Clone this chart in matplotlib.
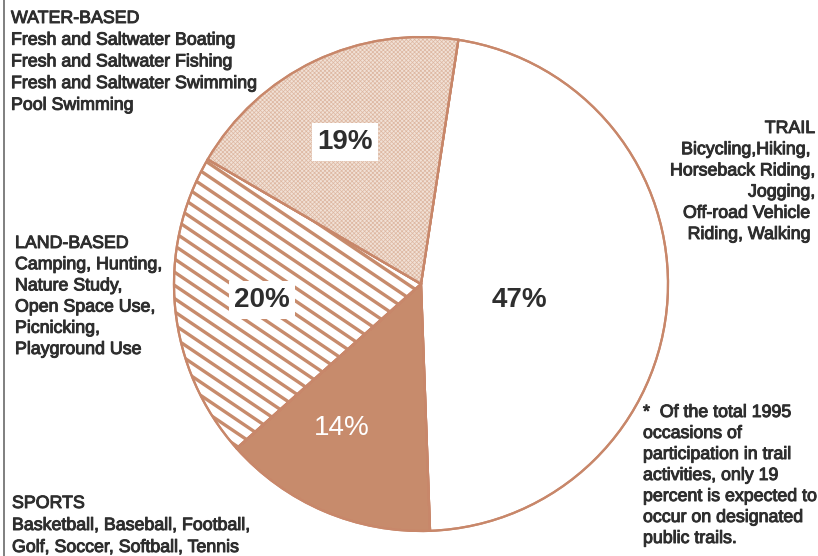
import matplotlib
matplotlib.use('Agg')
import matplotlib.pyplot as plt
import matplotlib.patheffects as pe
from matplotlib.patches import Wedge
import numpy as np

# ---------------- data ----------------
categories = ['TRAIL', 'SPORTS', 'LAND-BASED', 'WATER-BASED']
shares = [47, 14, 20, 19]
pct_labels = ['47%', '14%', '20%', '19%']

water_lines = ['WATER-BASED', 'Fresh and Saltwater Boating', 'Fresh and Saltwater Fishing',
               'Fresh and Saltwater Swimming', 'Pool Swimming']
trail_lines = ['TRAIL', 'Bicycling,Hiking, ', 'Horseback Riding,', 'Jogging,',
               'Off-road Vehicle ', 'Riding, Walking ']
land_lines = ['LAND-BASED', 'Camping, Hunting,', 'Nature Study,', 'Open Space Use,',
              'Picnicking,', 'Playground Use']
sports_lines = ['SPORTS', 'Basketball, Baseball, Football,', 'Golf, Soccer, Softball, Tennis']
note_lines = ['*  Of the total 1995', 'occasions of', 'participation in trail',
              'activities, only 19', 'percent is expected to', 'occur on designated',
              'public trails.']

# ---------------- figure ----------------
W, H = 818, 556
fig = plt.figure(figsize=(W / 100, H / 100), dpi=100)
ax = fig.add_axes([0, 0, 1, 1])

def Y(y):
    return H - y

brown = '#C78B6C'
edge = '#C8876A'
txt = '#2e2e2e'
cx, cy, R = 421, Y(284), 247

wedges, _ = ax.pie(shares, startangle=81.3, counterclock=False, center=(cx, cy), radius=R,
                   frame=True, colors=['white', brown, 'white', '#F1E1D6'],
                   wedgeprops=dict(edgecolor=edge, linewidth=1.6))
ax.set_xlim(0, W)
ax.set_ylim(0, H)
ax.axis('off')

# dotted texture on water-based wedge
plt.rcParams['hatch.linewidth'] = 0.5
w = wedges[3]
dots = Wedge((cx, cy), R, w.theta1, w.theta2, facecolor='none', edgecolor='#DDB7A1',
             linewidth=0, hatch='xxxxxxxx', zorder=1.5)
ax.add_patch(dots)

# diagonal stripes on land-based wedge
land = wedges[2]
t = np.tan(np.radians(34))
x0, x1 = 150, 460
for c in np.arange(10, 640, 13.2):
    ln, = ax.plot([x0, x1], [c, c - t * (x1 - x0)], color=brown, lw=2.4,
                  solid_capstyle='butt', zorder=1.6)
    ln.set_clip_path(land)

# redraw outline on top
for wd in wedges:
    ax.add_patch(Wedge(wd.center, wd.r, wd.theta1, wd.theta2, facecolor='none',
                       edgecolor=edge, linewidth=1.6, zorder=1.8))

# percentage labels
box = dict(facecolor='white', edgecolor='none', pad=4)
ax.text(519, Y(300), pct_labels[0], fontsize=20, fontweight='bold', color=txt,
        ha='center', va='center', family='Liberation Sans')
ax.text(342, Y(428), pct_labels[1], fontsize=20, color='white',
        ha='center', va='center', family='Liberation Sans')
ax.text(262, Y(300), pct_labels[2], fontsize=20, fontweight='bold', color=txt,
        ha='center', va='center', family='Liberation Sans', bbox=box)
ax.text(345, Y(142), pct_labels[3], fontsize=20, fontweight='bold', color=txt,
        ha='center', va='center', family='Liberation Sans', bbox=box)

# text blocks
stroke = [pe.withStroke(linewidth=0.7, foreground=txt)]

def block(lines, x, y0, dy, ha='left'):
    for i, s in enumerate(lines):
        ax.text(x, Y(y0 + i * dy), s, fontsize=12.8, color=txt, ha=ha, va='baseline',
                family='Liberation Sans', path_effects=stroke)

block(water_lines, 11, 23, 21.7)
block(trail_lines, 815, 133, 21.2, ha='right')
block(land_lines, 15, 248, 21.2)
block(sports_lines, 12, 508, 22)
block(note_lines, 643, 417, 21)

# scan edge line on the left
ax.plot([3.5, 3.5], [0, H], color='#6a6a6a', lw=1.2)

fig.savefig('out.png', dpi=100)
